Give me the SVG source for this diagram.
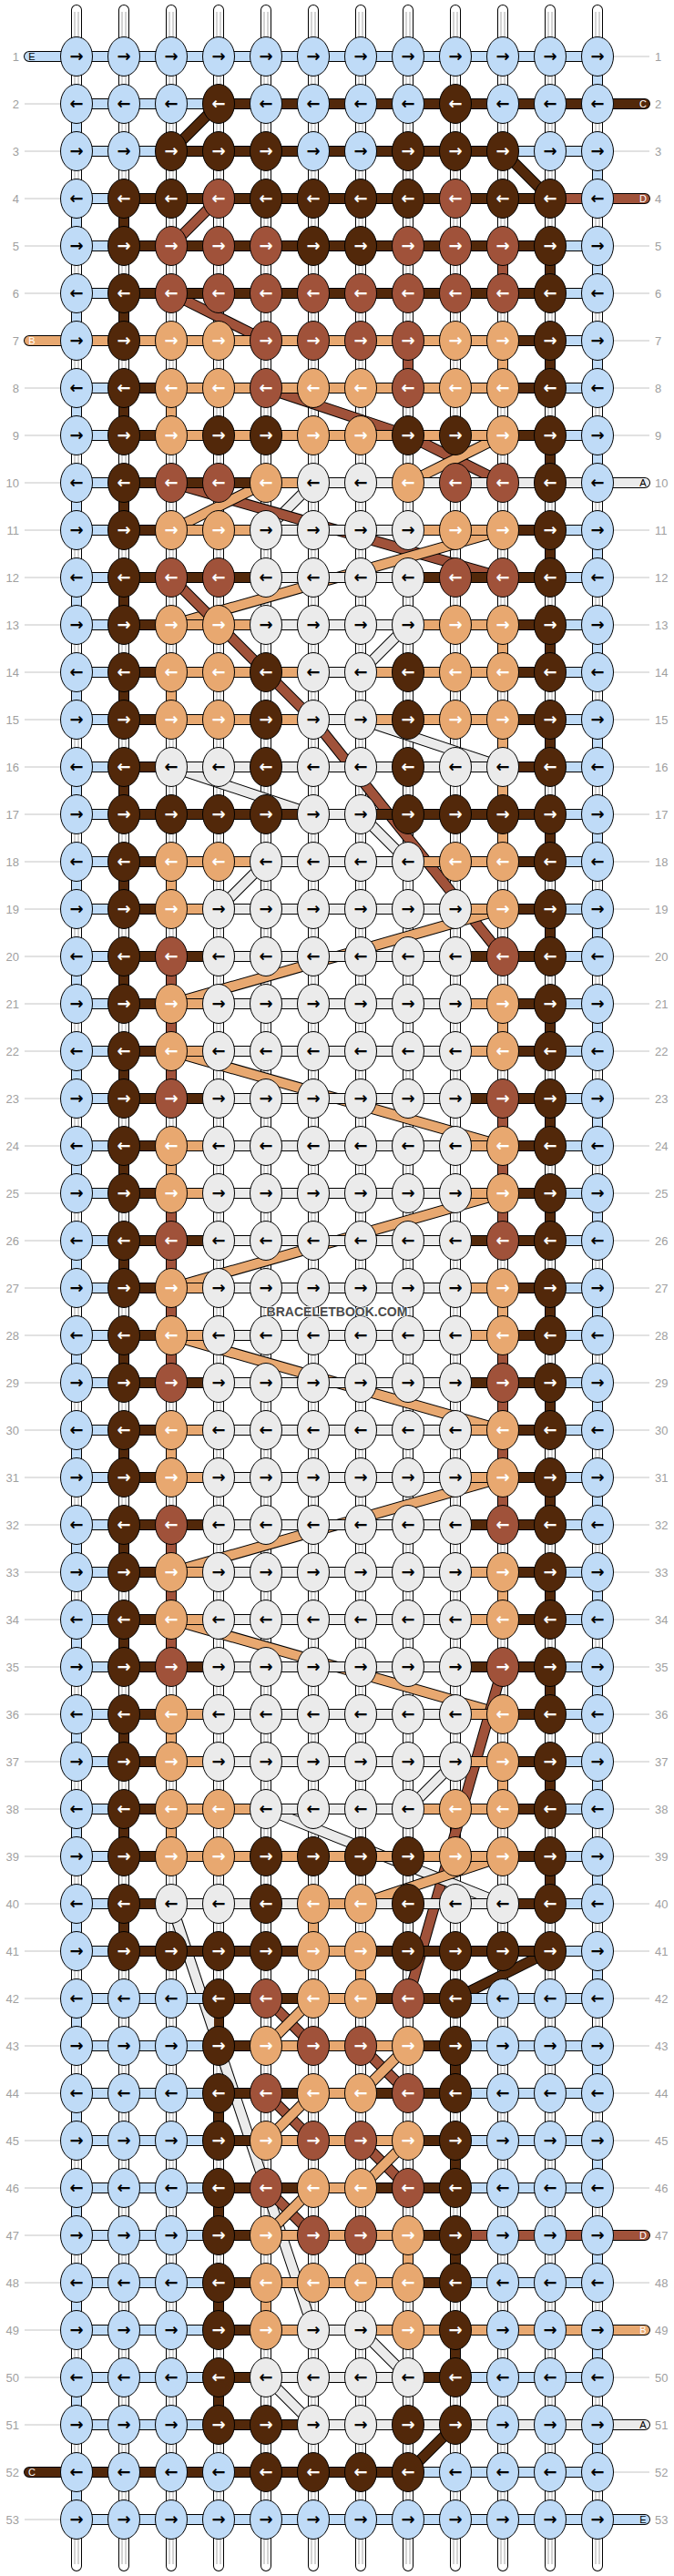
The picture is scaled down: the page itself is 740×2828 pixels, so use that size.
<svg xmlns="http://www.w3.org/2000/svg" width="740" height="2828" viewBox="0 0 740 2828">
<style>
.f{fill:none}
.ub{fill:none;stroke:#000;stroke-width:12}
.uw{fill:none;stroke:#fff;stroke-width:10}
.ul{fill:none;stroke:#A8A8A8;stroke-width:1}
.h{fill:none;stroke-width:10}
.rc{stroke-linecap:round}
.cL{stroke:#BFDBF7}.cD{stroke:#52280A}.cR{stroke:#A0523A}.cT{stroke:#E8A870}.cW{stroke:#EBEBEB}
.dash{stroke-dasharray:52 52}
.lbl{fill:none;stroke:#C4C4C4;stroke-width:1}
.num{font:13px "Liberation Sans",Arial,sans-serif;fill:#A0A0A0}
.ne{text-anchor:end}
.sl{font:11px "Liberation Sans",Arial,sans-serif;text-anchor:middle}
#nodes ellipse{rx:17.5px;ry:21.5px;stroke:#000;stroke-width:1}
#nodes text{font:bold 18px "DejaVu Sans",sans-serif;text-anchor:middle}
.L ellipse{fill:#BFDBF7}.D ellipse{fill:#52280A}.R ellipse{fill:#A0523A}.T ellipse{fill:#E8A870}.W ellipse{fill:#EBEBEB}
.L text,.W text{fill:#000}.D text,.R text,.T text{fill:#fff}
.wm{font:bold 14px "Liberation Sans",Arial,sans-serif;fill:#4A4A4A;text-anchor:middle;stroke:#fff;stroke-width:1.5;paint-order:stroke}
</style>
<rect width="740" height="2828" fill="#fff"/>
<g id="labels">
<path class="lbl" d="M27 114H66M27 166H66M27 218H66M27 270H66M27 322H66M27 426H66M27 478H66M27 530H66M27 582H66M27 634H66M27 686H66M27 738H66M27 790H66M27 842H66M27 894H66M27 946H66M27 998H66M27 1050H66M27 1102H66M27 1154H66M27 1206H66M27 1258H66M27 1310H66M27 1362H66M27 1414H66M27 1466H66M27 1518H66M27 1570H66M27 1622H66M27 1674H66M27 1726H66M27 1778H66M27 1830H66M27 1882H66M27 1934H66M27 1986H66M27 2038H66M27 2090H66M27 2142H66M27 2194H66M27 2246H66M27 2298H66M27 2350H66M27 2402H66M27 2454H66M27 2506H66M27 2558H66M27 2610H66M27 2662H66M27 2766H66"/>
<path class="lbl" d="M674 62H713M674 166H713M674 270H713M674 322H713M674 374H713M674 426H713M674 478H713M674 582H713M674 634H713M674 686H713M674 738H713M674 790H713M674 842H713M674 894H713M674 946H713M674 998H713M674 1050H713M674 1102H713M674 1154H713M674 1206H713M674 1258H713M674 1310H713M674 1362H713M674 1414H713M674 1466H713M674 1518H713M674 1570H713M674 1622H713M674 1674H713M674 1726H713M674 1778H713M674 1830H713M674 1882H713M674 1934H713M674 1986H713M674 2038H713M674 2090H713M674 2142H713M674 2194H713M674 2246H713M674 2298H713M674 2350H713M674 2402H713M674 2506H713M674 2610H713M674 2714H713"/>
<text class="num ne" x="21" y="67">1</text><text class="num ne" x="21" y="119">2</text><text class="num ne" x="21" y="171">3</text><text class="num ne" x="21" y="223">4</text><text class="num ne" x="21" y="275">5</text><text class="num ne" x="21" y="327">6</text><text class="num ne" x="21" y="379">7</text><text class="num ne" x="21" y="431">8</text><text class="num ne" x="21" y="483">9</text><text class="num ne" x="21" y="535">10</text><text class="num ne" x="21" y="587">11</text><text class="num ne" x="21" y="639">12</text><text class="num ne" x="21" y="691">13</text><text class="num ne" x="21" y="743">14</text><text class="num ne" x="21" y="795">15</text><text class="num ne" x="21" y="847">16</text><text class="num ne" x="21" y="899">17</text><text class="num ne" x="21" y="951">18</text><text class="num ne" x="21" y="1003">19</text><text class="num ne" x="21" y="1055">20</text><text class="num ne" x="21" y="1107">21</text><text class="num ne" x="21" y="1159">22</text><text class="num ne" x="21" y="1211">23</text><text class="num ne" x="21" y="1263">24</text><text class="num ne" x="21" y="1315">25</text><text class="num ne" x="21" y="1367">26</text><text class="num ne" x="21" y="1419">27</text><text class="num ne" x="21" y="1471">28</text><text class="num ne" x="21" y="1523">29</text><text class="num ne" x="21" y="1575">30</text><text class="num ne" x="21" y="1627">31</text><text class="num ne" x="21" y="1679">32</text><text class="num ne" x="21" y="1731">33</text><text class="num ne" x="21" y="1783">34</text><text class="num ne" x="21" y="1835">35</text><text class="num ne" x="21" y="1887">36</text><text class="num ne" x="21" y="1939">37</text><text class="num ne" x="21" y="1991">38</text><text class="num ne" x="21" y="2043">39</text><text class="num ne" x="21" y="2095">40</text><text class="num ne" x="21" y="2147">41</text><text class="num ne" x="21" y="2199">42</text><text class="num ne" x="21" y="2251">43</text><text class="num ne" x="21" y="2303">44</text><text class="num ne" x="21" y="2355">45</text><text class="num ne" x="21" y="2407">46</text><text class="num ne" x="21" y="2459">47</text><text class="num ne" x="21" y="2511">48</text><text class="num ne" x="21" y="2563">49</text><text class="num ne" x="21" y="2615">50</text><text class="num ne" x="21" y="2667">51</text><text class="num ne" x="21" y="2719">52</text><text class="num ne" x="21" y="2771">53</text>
<text class="num" x="719" y="67">1</text><text class="num" x="719" y="119">2</text><text class="num" x="719" y="171">3</text><text class="num" x="719" y="223">4</text><text class="num" x="719" y="275">5</text><text class="num" x="719" y="327">6</text><text class="num" x="719" y="379">7</text><text class="num" x="719" y="431">8</text><text class="num" x="719" y="483">9</text><text class="num" x="719" y="535">10</text><text class="num" x="719" y="587">11</text><text class="num" x="719" y="639">12</text><text class="num" x="719" y="691">13</text><text class="num" x="719" y="743">14</text><text class="num" x="719" y="795">15</text><text class="num" x="719" y="847">16</text><text class="num" x="719" y="899">17</text><text class="num" x="719" y="951">18</text><text class="num" x="719" y="1003">19</text><text class="num" x="719" y="1055">20</text><text class="num" x="719" y="1107">21</text><text class="num" x="719" y="1159">22</text><text class="num" x="719" y="1211">23</text><text class="num" x="719" y="1263">24</text><text class="num" x="719" y="1315">25</text><text class="num" x="719" y="1367">26</text><text class="num" x="719" y="1419">27</text><text class="num" x="719" y="1471">28</text><text class="num" x="719" y="1523">29</text><text class="num" x="719" y="1575">30</text><text class="num" x="719" y="1627">31</text><text class="num" x="719" y="1679">32</text><text class="num" x="719" y="1731">33</text><text class="num" x="719" y="1783">34</text><text class="num" x="719" y="1835">35</text><text class="num" x="719" y="1887">36</text><text class="num" x="719" y="1939">37</text><text class="num" x="719" y="1991">38</text><text class="num" x="719" y="2043">39</text><text class="num" x="719" y="2095">40</text><text class="num" x="719" y="2147">41</text><text class="num" x="719" y="2199">42</text><text class="num" x="719" y="2251">43</text><text class="num" x="719" y="2303">44</text><text class="num" x="719" y="2355">45</text><text class="num" x="719" y="2407">46</text><text class="num" x="719" y="2459">47</text><text class="num" x="719" y="2511">48</text><text class="num" x="719" y="2563">49</text><text class="num" x="719" y="2615">50</text><text class="num" x="719" y="2667">51</text><text class="num" x="719" y="2719">52</text><text class="num" x="719" y="2771">53</text>
</g>
<g id="connectors">
<path class="ub rc" d="M84 11V2817M136 11V2817M188 11V2817M240 11V2817M292 11V2817M344 11V2817M396 11V2817M448 11V2817M500 11V2817M552 11V2817M604 11V2817M656 11V2817"/>
<path class="uw rc" d="M84 11V2817M136 11V2817M188 11V2817M240 11V2817M292 11V2817M344 11V2817M396 11V2817M448 11V2817M500 11V2817M552 11V2817M604 11V2817M656 11V2817"/>
<path class="ul" d="M82 13V2815M86 13V2815M134 13V2815M138 13V2815M186 13V2815M190 13V2815M238 13V2815M242 13V2815M290 13V2815M294 13V2815M342 13V2815M346 13V2815M394 13V2815M398 13V2815M446 13V2815M450 13V2815M498 13V2815M502 13V2815M550 13V2815M554 13V2815M602 13V2815M606 13V2815M654 13V2815M658 13V2815"/>
<g id="diagonals">
<path class="ub" d="M240 114L188 166"/><path class="h cD" d="M240 114L188 166"/>
<path class="ub" d="M552 166L604 218"/><path class="h cD" d="M552 166L604 218"/>
<path class="ub" d="M240 218L188 270"/><path class="h cR" d="M240 218L188 270"/>
<path class="ub" d="M188 322L292 374"/><path class="h cR" d="M188 322L292 374"/>
<path class="ub" d="M292 426L448 478L552 530"/><path class="h cR" d="M292 426L448 478L552 530"/>
<path class="ub" d="M552 478L448 530"/><path class="h cT" d="M552 478L448 530"/>
<path class="ub" d="M344 530L292 582"/><path class="h cW" d="M344 530L292 582"/>
<path class="ub" d="M188 530L552 634"/><path class="h cR" d="M188 530L552 634"/>
<path class="ub" d="M292 530L188 582"/><path class="h cT" d="M292 530L188 582"/>
<path class="ub" d="M552 582L188 686"/><path class="h cT" d="M552 582L188 686"/>
<path class="ub" d="M188 634L292 738L344 790L552 1050"/><path class="h cR" d="M188 634L292 738L344 790L552 1050"/>
<path class="ub" d="M448 686L396 738"/><path class="h cW" d="M448 686L396 738"/>
<path class="ub" d="M396 790L552 842"/><path class="h cW" d="M396 790L552 842"/>
<path class="ub" d="M188 842L344 894"/><path class="h cW" d="M188 842L344 894"/>
<path class="ub" d="M396 894L448 946"/><path class="h cW" d="M396 894L448 946"/>
<path class="ub" d="M292 946L240 998"/><path class="h cW" d="M292 946L240 998"/>
<path class="ub" d="M552 998L188 1102"/><path class="h cT" d="M552 998L188 1102"/>
<path class="ub" d="M188 1154L552 1258"/><path class="h cT" d="M188 1154L552 1258"/>
<path class="ub" d="M552 1310L188 1414"/><path class="h cT" d="M552 1310L188 1414"/>
<path class="ub" d="M188 1466L552 1570"/><path class="h cT" d="M188 1466L552 1570"/>
<path class="ub" d="M552 1622L188 1726"/><path class="h cT" d="M552 1622L188 1726"/>
<path class="ub" d="M188 1778L552 1882"/><path class="h cT" d="M188 1778L552 1882"/>
<path class="ub" d="M552 1830L448 2194"/><path class="h cR" d="M552 1830L448 2194"/>
<path class="ub" d="M500 1934L448 1986"/><path class="h cW" d="M500 1934L448 1986"/>
<path class="ub" d="M292 1986L552 2090"/><path class="h cW" d="M292 1986L552 2090"/>
<path class="ub" d="M552 2038L396 2090"/><path class="h cT" d="M552 2038L396 2090"/>
<path class="ub" d="M188 2090L344 2558"/><path class="h cW" d="M188 2090L344 2558"/>
<path class="ub" d="M604 2142L500 2194"/><path class="h cD" d="M604 2142L500 2194"/>
<path class="ub" d="M292 2194L344 2246"/><path class="h cR" d="M292 2194L344 2246"/>
<path class="ub" d="M344 2194L292 2246"/><path class="h cT" d="M344 2194L292 2246"/>
<path class="ub" d="M396 2246L448 2298"/><path class="h cR" d="M396 2246L448 2298"/>
<path class="ub" d="M448 2246L396 2298"/><path class="h cT" d="M448 2246L396 2298"/>
<path class="ub" d="M292 2298L344 2350"/><path class="h cR" d="M292 2298L344 2350"/>
<path class="ub" d="M344 2298L292 2350"/><path class="h cT" d="M344 2298L292 2350"/>
<path class="ub" d="M396 2350L448 2402"/><path class="h cR" d="M396 2350L448 2402"/>
<path class="ub" d="M448 2350L396 2402"/><path class="h cT" d="M448 2350L396 2402"/>
<path class="ub" d="M292 2402L344 2454"/><path class="h cR" d="M292 2402L344 2454"/>
<path class="ub" d="M344 2402L292 2454"/><path class="h cT" d="M344 2402L292 2454"/>
<path class="ub" d="M396 2558L448 2610"/><path class="h cW" d="M396 2558L448 2610"/>
<path class="ub" d="M292 2610L344 2662"/><path class="h cW" d="M292 2610L344 2662"/>
<path class="ub" d="M500 2662L448 2714"/><path class="h cD" d="M500 2662L448 2714"/>
</g>
<path class="ub" d="M84 62h572M84 114h572M84 166h572M84 218h572M84 270h572M84 322h572M84 374h572M84 426h572M84 478h572M84 530h572M84 582h572M84 634h572M84 686h572M84 738h572M84 790h572M84 842h572M84 894h572M84 946h572M84 998h572M84 1050h572M84 1102h572M84 1154h572M84 1206h572M84 1258h572M84 1310h572M84 1362h572M84 1414h572M84 1466h572M84 1518h572M84 1570h572M84 1622h572M84 1674h572M84 1726h572M84 1778h572M84 1830h572M84 1882h572M84 1934h572M84 1986h572M84 2038h572M84 2090h572M84 2142h572M84 2194h572M84 2246h572M84 2298h572M84 2350h572M84 2402h572M84 2454h572M84 2506h572M84 2558h572M84 2610h572M84 2662h572M84 2714h572M84 2766h572"/>
<path class="ub rc" d="M32 62H84M32 374H84M32 2714H84M656 114H708M656 218H708M656 530H708M656 2454H708M656 2558H708M656 2662H708M656 2766H708"/>
<path class="h cL" d="M84 62h572M84 114h156M84 166h104M552 166h104M84 218h52M84 270h52M604 270h52M84 322h52M604 322h52M604 374h52M84 426h52M604 426h52M84 478h52M604 478h52M84 530h52M84 582h52M604 582h52M84 634h52M604 634h52M84 686h52M604 686h52M84 738h52M604 738h52M84 790h52M604 790h52M84 842h52M604 842h52M84 894h52M604 894h52M84 946h52M604 946h52M84 998h52M604 998h52M84 1050h52M604 1050h52M84 1102h52M604 1102h52M84 1154h52M604 1154h52M84 1206h52M604 1206h52M84 1258h52M604 1258h52M84 1310h52M604 1310h52M84 1362h52M604 1362h52M84 1414h52M604 1414h52M84 1466h52M604 1466h52M84 1518h52M604 1518h52M84 1570h52M604 1570h52M84 1622h52M604 1622h52M84 1674h52M604 1674h52M84 1726h52M604 1726h52M84 1778h52M604 1778h52M84 1830h52M604 1830h52M84 1882h52M604 1882h52M84 1934h52M604 1934h52M84 1986h52M604 1986h52M84 2038h52M604 2038h52M84 2090h52M604 2090h52M84 2142h52M604 2142h52M84 2194h156M500 2194h156M84 2246h156M500 2246h156M84 2298h156M500 2298h156M84 2350h156M500 2350h156M84 2402h156M500 2402h156M84 2454h156M84 2506h156M500 2506h156M84 2558h156M84 2610h156M500 2610h156M84 2662h156M448 2714h208M84 2766h572"/>
<path class="h cD" d="M240 114h416M188 166h364M136 218h468M136 270h468M136 322h468M552 374h52M136 426h52M552 426h52M136 478h52M552 478h52M136 530h156M136 582h52M552 582h52M136 634h156M448 634h156M136 686h52M552 686h52M136 738h52M552 738h52M136 790h52M552 790h52M136 842h52M552 842h52M136 894h208M396 894h208M136 946h52M552 946h52M136 998h52M552 998h52M136 1050h104M500 1050h104M136 1102h52M552 1102h52M136 1154h52M552 1154h52M136 1206h104M500 1206h104M136 1258h52M552 1258h52M136 1310h52M552 1310h52M136 1362h104M500 1362h104M136 1414h52M552 1414h52M136 1466h52M552 1466h52M136 1518h104M500 1518h104M136 1570h52M552 1570h52M136 1622h52M552 1622h52M136 1674h104M500 1674h104M136 1726h52M552 1726h52M136 1778h52M552 1778h52M136 1830h104M500 1830h104M136 1882h52M552 1882h52M136 1934h52M552 1934h52M136 1986h52M552 1986h52M136 2038h52M552 2038h52M136 2090h52M552 2090h52M136 2142h208M396 2142h208M240 2194h104M396 2194h104M240 2246h52M448 2246h52M240 2298h104M396 2298h104M240 2350h52M448 2350h52M240 2402h104M396 2402h104M240 2454h52M448 2454h52M240 2506h52M448 2506h52M240 2558h52M240 2610h52M448 2610h52M240 2662h104M84 2714h364"/>
<path class="h cT" d="M84 374h468M188 426h364M188 478h364M292 530h52M188 582h104M448 582h104M188 686h104M448 686h104M188 738h156M396 738h156M188 790h156M396 790h156M188 946h104M448 946h104M188 998h52M500 998h52M188 1102h52M500 1102h52M188 1154h52M500 1154h52M188 1258h52M500 1258h52M188 1310h52M500 1310h52M188 1414h52M500 1414h52M188 1466h52M500 1466h52M188 1570h52M500 1570h52M188 1622h52M500 1622h52M188 1726h52M500 1726h52M188 1778h52M500 1778h52M188 1882h52M500 1882h52M188 1934h52M500 1934h52M188 1986h104M448 1986h104M188 2038h364M344 2090h52M344 2142h52M344 2194h52M292 2246h156M344 2298h52M292 2350h156M344 2402h52M292 2454h156M292 2506h156M292 2558h52M396 2558h260"/>
<path class="h cR" d="M604 218h52M500 2454h156"/>
<path class="h cW" d="M344 530h312M292 582h156M292 634h156M292 686h156M344 738h52M344 790h52M188 842h364M344 894h52M292 946h156M240 998h260M240 1050h260M240 1102h260M240 1154h260M240 1206h260M240 1258h260M240 1310h260M240 1362h260M240 1414h260M240 1466h260M240 1518h260M240 1570h260M240 1622h260M240 1674h260M240 1726h260M240 1778h260M240 1830h260M240 1882h260M240 1934h260M292 1986h156M188 2090h156M396 2090h156M344 2558h52M292 2610h156M344 2662h312"/>
<path class="h rc cL" d="M32 62H84M656 2766H708"/>
<path class="h rc cT" d="M32 374H84M656 2558H708"/>
<path class="h rc cD" d="M32 2714H84M656 114H708"/>
<path class="h rc cR" d="M656 218H708M656 2454H708"/>
<path class="h rc cW" d="M656 530H708M656 2662H708"/>
<path class="h dash cL" d="M84 114V2766M656 62V2714"/>
<path class="h dash cD" d="M136 218V2142M604 270V2090M240 2194V2662M500 2246V2610"/>
<path class="h cR" d="M552 270v52M448 374v52M188 1050v156M188 1310v208M188 1674v156M552 1206v156M552 1466v208"/>
<path class="h cT" d="M552 374v52M188 426v52M552 686v52M188 738v52M552 790v156M188 946v52M552 1102v52M188 1258v52M552 1414v52M188 1570v52M552 1726v52M188 1882v52M552 1934v52M188 1986v52M344 2090v52M396 2142v52M448 2454v52M292 2506v52"/>
<text class="sl" x="35" y="66" fill="#000">E</text><text class="sl" x="35" y="378" fill="#fff">B</text><text class="sl" x="35" y="2718" fill="#fff">C</text>
<text class="sl" x="706" y="118" fill="#fff">C</text><text class="sl" x="706" y="222" fill="#fff">D</text><text class="sl" x="706" y="534" fill="#000">A</text><text class="sl" x="706" y="2458" fill="#fff">D</text><text class="sl" x="706" y="2562" fill="#fff">B</text><text class="sl" x="706" y="2666" fill="#000">A</text><text class="sl" x="706" y="2770" fill="#000">E</text>
</g>
<g id="nodes">
<g id="n1-1" class="L"><ellipse cx="84" cy="62"/><text x="84" y="68">→</text></g><g id="n1-2" class="L"><ellipse cx="136" cy="62"/><text x="136" y="68">→</text></g><g id="n1-3" class="L"><ellipse cx="188" cy="62"/><text x="188" y="68">→</text></g><g id="n1-4" class="L"><ellipse cx="240" cy="62"/><text x="240" y="68">→</text></g><g id="n1-5" class="L"><ellipse cx="292" cy="62"/><text x="292" y="68">→</text></g><g id="n1-6" class="L"><ellipse cx="344" cy="62"/><text x="344" y="68">→</text></g><g id="n1-7" class="L"><ellipse cx="396" cy="62"/><text x="396" y="68">→</text></g><g id="n1-8" class="L"><ellipse cx="448" cy="62"/><text x="448" y="68">→</text></g><g id="n1-9" class="L"><ellipse cx="500" cy="62"/><text x="500" y="68">→</text></g><g id="n1-10" class="L"><ellipse cx="552" cy="62"/><text x="552" y="68">→</text></g><g id="n1-11" class="L"><ellipse cx="604" cy="62"/><text x="604" y="68">→</text></g><g id="n1-12" class="L"><ellipse cx="656" cy="62"/><text x="656" y="68">→</text></g>
<g id="n2-1" class="L"><ellipse cx="84" cy="114"/><text x="84" y="120">←</text></g><g id="n2-2" class="L"><ellipse cx="136" cy="114"/><text x="136" y="120">←</text></g><g id="n2-3" class="L"><ellipse cx="188" cy="114"/><text x="188" y="120">←</text></g><g id="n2-4" class="D"><ellipse cx="240" cy="114"/><text x="240" y="120">←</text></g><g id="n2-5" class="L"><ellipse cx="292" cy="114"/><text x="292" y="120">←</text></g><g id="n2-6" class="L"><ellipse cx="344" cy="114"/><text x="344" y="120">←</text></g><g id="n2-7" class="L"><ellipse cx="396" cy="114"/><text x="396" y="120">←</text></g><g id="n2-8" class="L"><ellipse cx="448" cy="114"/><text x="448" y="120">←</text></g><g id="n2-9" class="D"><ellipse cx="500" cy="114"/><text x="500" y="120">←</text></g><g id="n2-10" class="L"><ellipse cx="552" cy="114"/><text x="552" y="120">←</text></g><g id="n2-11" class="L"><ellipse cx="604" cy="114"/><text x="604" y="120">←</text></g><g id="n2-12" class="L"><ellipse cx="656" cy="114"/><text x="656" y="120">←</text></g>
<g id="n3-1" class="L"><ellipse cx="84" cy="166"/><text x="84" y="172">→</text></g><g id="n3-2" class="L"><ellipse cx="136" cy="166"/><text x="136" y="172">→</text></g><g id="n3-3" class="D"><ellipse cx="188" cy="166"/><text x="188" y="172">→</text></g><g id="n3-4" class="D"><ellipse cx="240" cy="166"/><text x="240" y="172">→</text></g><g id="n3-5" class="D"><ellipse cx="292" cy="166"/><text x="292" y="172">→</text></g><g id="n3-6" class="L"><ellipse cx="344" cy="166"/><text x="344" y="172">→</text></g><g id="n3-7" class="L"><ellipse cx="396" cy="166"/><text x="396" y="172">→</text></g><g id="n3-8" class="D"><ellipse cx="448" cy="166"/><text x="448" y="172">→</text></g><g id="n3-9" class="D"><ellipse cx="500" cy="166"/><text x="500" y="172">→</text></g><g id="n3-10" class="D"><ellipse cx="552" cy="166"/><text x="552" y="172">→</text></g><g id="n3-11" class="L"><ellipse cx="604" cy="166"/><text x="604" y="172">→</text></g><g id="n3-12" class="L"><ellipse cx="656" cy="166"/><text x="656" y="172">→</text></g>
<g id="n4-1" class="L"><ellipse cx="84" cy="218"/><text x="84" y="224">←</text></g><g id="n4-2" class="D"><ellipse cx="136" cy="218"/><text x="136" y="224">←</text></g><g id="n4-3" class="D"><ellipse cx="188" cy="218"/><text x="188" y="224">←</text></g><g id="n4-4" class="R"><ellipse cx="240" cy="218"/><text x="240" y="224">←</text></g><g id="n4-5" class="D"><ellipse cx="292" cy="218"/><text x="292" y="224">←</text></g><g id="n4-6" class="D"><ellipse cx="344" cy="218"/><text x="344" y="224">←</text></g><g id="n4-7" class="D"><ellipse cx="396" cy="218"/><text x="396" y="224">←</text></g><g id="n4-8" class="D"><ellipse cx="448" cy="218"/><text x="448" y="224">←</text></g><g id="n4-9" class="R"><ellipse cx="500" cy="218"/><text x="500" y="224">←</text></g><g id="n4-10" class="D"><ellipse cx="552" cy="218"/><text x="552" y="224">←</text></g><g id="n4-11" class="D"><ellipse cx="604" cy="218"/><text x="604" y="224">←</text></g><g id="n4-12" class="L"><ellipse cx="656" cy="218"/><text x="656" y="224">←</text></g>
<g id="n5-1" class="L"><ellipse cx="84" cy="270"/><text x="84" y="276">→</text></g><g id="n5-2" class="D"><ellipse cx="136" cy="270"/><text x="136" y="276">→</text></g><g id="n5-3" class="R"><ellipse cx="188" cy="270"/><text x="188" y="276">→</text></g><g id="n5-4" class="R"><ellipse cx="240" cy="270"/><text x="240" y="276">→</text></g><g id="n5-5" class="R"><ellipse cx="292" cy="270"/><text x="292" y="276">→</text></g><g id="n5-6" class="D"><ellipse cx="344" cy="270"/><text x="344" y="276">→</text></g><g id="n5-7" class="D"><ellipse cx="396" cy="270"/><text x="396" y="276">→</text></g><g id="n5-8" class="R"><ellipse cx="448" cy="270"/><text x="448" y="276">→</text></g><g id="n5-9" class="R"><ellipse cx="500" cy="270"/><text x="500" y="276">→</text></g><g id="n5-10" class="R"><ellipse cx="552" cy="270"/><text x="552" y="276">→</text></g><g id="n5-11" class="D"><ellipse cx="604" cy="270"/><text x="604" y="276">→</text></g><g id="n5-12" class="L"><ellipse cx="656" cy="270"/><text x="656" y="276">→</text></g>
<g id="n6-1" class="L"><ellipse cx="84" cy="322"/><text x="84" y="328">←</text></g><g id="n6-2" class="D"><ellipse cx="136" cy="322"/><text x="136" y="328">←</text></g><g id="n6-3" class="R"><ellipse cx="188" cy="322"/><text x="188" y="328">←</text></g><g id="n6-4" class="R"><ellipse cx="240" cy="322"/><text x="240" y="328">←</text></g><g id="n6-5" class="R"><ellipse cx="292" cy="322"/><text x="292" y="328">←</text></g><g id="n6-6" class="R"><ellipse cx="344" cy="322"/><text x="344" y="328">←</text></g><g id="n6-7" class="R"><ellipse cx="396" cy="322"/><text x="396" y="328">←</text></g><g id="n6-8" class="R"><ellipse cx="448" cy="322"/><text x="448" y="328">←</text></g><g id="n6-9" class="R"><ellipse cx="500" cy="322"/><text x="500" y="328">←</text></g><g id="n6-10" class="R"><ellipse cx="552" cy="322"/><text x="552" y="328">←</text></g><g id="n6-11" class="D"><ellipse cx="604" cy="322"/><text x="604" y="328">←</text></g><g id="n6-12" class="L"><ellipse cx="656" cy="322"/><text x="656" y="328">←</text></g>
<g id="n7-1" class="L"><ellipse cx="84" cy="374"/><text x="84" y="380">→</text></g><g id="n7-2" class="D"><ellipse cx="136" cy="374"/><text x="136" y="380">→</text></g><g id="n7-3" class="T"><ellipse cx="188" cy="374"/><text x="188" y="380">→</text></g><g id="n7-4" class="T"><ellipse cx="240" cy="374"/><text x="240" y="380">→</text></g><g id="n7-5" class="R"><ellipse cx="292" cy="374"/><text x="292" y="380">→</text></g><g id="n7-6" class="R"><ellipse cx="344" cy="374"/><text x="344" y="380">→</text></g><g id="n7-7" class="R"><ellipse cx="396" cy="374"/><text x="396" y="380">→</text></g><g id="n7-8" class="R"><ellipse cx="448" cy="374"/><text x="448" y="380">→</text></g><g id="n7-9" class="T"><ellipse cx="500" cy="374"/><text x="500" y="380">→</text></g><g id="n7-10" class="T"><ellipse cx="552" cy="374"/><text x="552" y="380">→</text></g><g id="n7-11" class="D"><ellipse cx="604" cy="374"/><text x="604" y="380">→</text></g><g id="n7-12" class="L"><ellipse cx="656" cy="374"/><text x="656" y="380">→</text></g>
<g id="n8-1" class="L"><ellipse cx="84" cy="426"/><text x="84" y="432">←</text></g><g id="n8-2" class="D"><ellipse cx="136" cy="426"/><text x="136" y="432">←</text></g><g id="n8-3" class="T"><ellipse cx="188" cy="426"/><text x="188" y="432">←</text></g><g id="n8-4" class="T"><ellipse cx="240" cy="426"/><text x="240" y="432">←</text></g><g id="n8-5" class="R"><ellipse cx="292" cy="426"/><text x="292" y="432">←</text></g><g id="n8-6" class="T"><ellipse cx="344" cy="426"/><text x="344" y="432">←</text></g><g id="n8-7" class="T"><ellipse cx="396" cy="426"/><text x="396" y="432">←</text></g><g id="n8-8" class="R"><ellipse cx="448" cy="426"/><text x="448" y="432">←</text></g><g id="n8-9" class="T"><ellipse cx="500" cy="426"/><text x="500" y="432">←</text></g><g id="n8-10" class="T"><ellipse cx="552" cy="426"/><text x="552" y="432">←</text></g><g id="n8-11" class="D"><ellipse cx="604" cy="426"/><text x="604" y="432">←</text></g><g id="n8-12" class="L"><ellipse cx="656" cy="426"/><text x="656" y="432">←</text></g>
<g id="n9-1" class="L"><ellipse cx="84" cy="478"/><text x="84" y="484">→</text></g><g id="n9-2" class="D"><ellipse cx="136" cy="478"/><text x="136" y="484">→</text></g><g id="n9-3" class="T"><ellipse cx="188" cy="478"/><text x="188" y="484">→</text></g><g id="n9-4" class="D"><ellipse cx="240" cy="478"/><text x="240" y="484">→</text></g><g id="n9-5" class="D"><ellipse cx="292" cy="478"/><text x="292" y="484">→</text></g><g id="n9-6" class="T"><ellipse cx="344" cy="478"/><text x="344" y="484">→</text></g><g id="n9-7" class="T"><ellipse cx="396" cy="478"/><text x="396" y="484">→</text></g><g id="n9-8" class="D"><ellipse cx="448" cy="478"/><text x="448" y="484">→</text></g><g id="n9-9" class="D"><ellipse cx="500" cy="478"/><text x="500" y="484">→</text></g><g id="n9-10" class="T"><ellipse cx="552" cy="478"/><text x="552" y="484">→</text></g><g id="n9-11" class="D"><ellipse cx="604" cy="478"/><text x="604" y="484">→</text></g><g id="n9-12" class="L"><ellipse cx="656" cy="478"/><text x="656" y="484">→</text></g>
<g id="n10-1" class="L"><ellipse cx="84" cy="530"/><text x="84" y="536">←</text></g><g id="n10-2" class="D"><ellipse cx="136" cy="530"/><text x="136" y="536">←</text></g><g id="n10-3" class="R"><ellipse cx="188" cy="530"/><text x="188" y="536">←</text></g><g id="n10-4" class="R"><ellipse cx="240" cy="530"/><text x="240" y="536">←</text></g><g id="n10-5" class="T"><ellipse cx="292" cy="530"/><text x="292" y="536">←</text></g><g id="n10-6" class="W"><ellipse cx="344" cy="530"/><text x="344" y="536">←</text></g><g id="n10-7" class="W"><ellipse cx="396" cy="530"/><text x="396" y="536">←</text></g><g id="n10-8" class="T"><ellipse cx="448" cy="530"/><text x="448" y="536">←</text></g><g id="n10-9" class="R"><ellipse cx="500" cy="530"/><text x="500" y="536">←</text></g><g id="n10-10" class="R"><ellipse cx="552" cy="530"/><text x="552" y="536">←</text></g><g id="n10-11" class="D"><ellipse cx="604" cy="530"/><text x="604" y="536">←</text></g><g id="n10-12" class="L"><ellipse cx="656" cy="530"/><text x="656" y="536">←</text></g>
<g id="n11-1" class="L"><ellipse cx="84" cy="582"/><text x="84" y="588">→</text></g><g id="n11-2" class="D"><ellipse cx="136" cy="582"/><text x="136" y="588">→</text></g><g id="n11-3" class="T"><ellipse cx="188" cy="582"/><text x="188" y="588">→</text></g><g id="n11-4" class="T"><ellipse cx="240" cy="582"/><text x="240" y="588">→</text></g><g id="n11-5" class="W"><ellipse cx="292" cy="582"/><text x="292" y="588">→</text></g><g id="n11-6" class="W"><ellipse cx="344" cy="582"/><text x="344" y="588">→</text></g><g id="n11-7" class="W"><ellipse cx="396" cy="582"/><text x="396" y="588">→</text></g><g id="n11-8" class="W"><ellipse cx="448" cy="582"/><text x="448" y="588">→</text></g><g id="n11-9" class="T"><ellipse cx="500" cy="582"/><text x="500" y="588">→</text></g><g id="n11-10" class="T"><ellipse cx="552" cy="582"/><text x="552" y="588">→</text></g><g id="n11-11" class="D"><ellipse cx="604" cy="582"/><text x="604" y="588">→</text></g><g id="n11-12" class="L"><ellipse cx="656" cy="582"/><text x="656" y="588">→</text></g>
<g id="n12-1" class="L"><ellipse cx="84" cy="634"/><text x="84" y="640">←</text></g><g id="n12-2" class="D"><ellipse cx="136" cy="634"/><text x="136" y="640">←</text></g><g id="n12-3" class="R"><ellipse cx="188" cy="634"/><text x="188" y="640">←</text></g><g id="n12-4" class="R"><ellipse cx="240" cy="634"/><text x="240" y="640">←</text></g><g id="n12-5" class="W"><ellipse cx="292" cy="634"/><text x="292" y="640">←</text></g><g id="n12-6" class="W"><ellipse cx="344" cy="634"/><text x="344" y="640">←</text></g><g id="n12-7" class="W"><ellipse cx="396" cy="634"/><text x="396" y="640">←</text></g><g id="n12-8" class="W"><ellipse cx="448" cy="634"/><text x="448" y="640">←</text></g><g id="n12-9" class="R"><ellipse cx="500" cy="634"/><text x="500" y="640">←</text></g><g id="n12-10" class="R"><ellipse cx="552" cy="634"/><text x="552" y="640">←</text></g><g id="n12-11" class="D"><ellipse cx="604" cy="634"/><text x="604" y="640">←</text></g><g id="n12-12" class="L"><ellipse cx="656" cy="634"/><text x="656" y="640">←</text></g>
<g id="n13-1" class="L"><ellipse cx="84" cy="686"/><text x="84" y="692">→</text></g><g id="n13-2" class="D"><ellipse cx="136" cy="686"/><text x="136" y="692">→</text></g><g id="n13-3" class="T"><ellipse cx="188" cy="686"/><text x="188" y="692">→</text></g><g id="n13-4" class="T"><ellipse cx="240" cy="686"/><text x="240" y="692">→</text></g><g id="n13-5" class="W"><ellipse cx="292" cy="686"/><text x="292" y="692">→</text></g><g id="n13-6" class="W"><ellipse cx="344" cy="686"/><text x="344" y="692">→</text></g><g id="n13-7" class="W"><ellipse cx="396" cy="686"/><text x="396" y="692">→</text></g><g id="n13-8" class="W"><ellipse cx="448" cy="686"/><text x="448" y="692">→</text></g><g id="n13-9" class="T"><ellipse cx="500" cy="686"/><text x="500" y="692">→</text></g><g id="n13-10" class="T"><ellipse cx="552" cy="686"/><text x="552" y="692">→</text></g><g id="n13-11" class="D"><ellipse cx="604" cy="686"/><text x="604" y="692">→</text></g><g id="n13-12" class="L"><ellipse cx="656" cy="686"/><text x="656" y="692">→</text></g>
<g id="n14-1" class="L"><ellipse cx="84" cy="738"/><text x="84" y="744">←</text></g><g id="n14-2" class="D"><ellipse cx="136" cy="738"/><text x="136" y="744">←</text></g><g id="n14-3" class="T"><ellipse cx="188" cy="738"/><text x="188" y="744">←</text></g><g id="n14-4" class="T"><ellipse cx="240" cy="738"/><text x="240" y="744">←</text></g><g id="n14-5" class="D"><ellipse cx="292" cy="738"/><text x="292" y="744">←</text></g><g id="n14-6" class="W"><ellipse cx="344" cy="738"/><text x="344" y="744">←</text></g><g id="n14-7" class="W"><ellipse cx="396" cy="738"/><text x="396" y="744">←</text></g><g id="n14-8" class="D"><ellipse cx="448" cy="738"/><text x="448" y="744">←</text></g><g id="n14-9" class="T"><ellipse cx="500" cy="738"/><text x="500" y="744">←</text></g><g id="n14-10" class="T"><ellipse cx="552" cy="738"/><text x="552" y="744">←</text></g><g id="n14-11" class="D"><ellipse cx="604" cy="738"/><text x="604" y="744">←</text></g><g id="n14-12" class="L"><ellipse cx="656" cy="738"/><text x="656" y="744">←</text></g>
<g id="n15-1" class="L"><ellipse cx="84" cy="790"/><text x="84" y="796">→</text></g><g id="n15-2" class="D"><ellipse cx="136" cy="790"/><text x="136" y="796">→</text></g><g id="n15-3" class="T"><ellipse cx="188" cy="790"/><text x="188" y="796">→</text></g><g id="n15-4" class="T"><ellipse cx="240" cy="790"/><text x="240" y="796">→</text></g><g id="n15-5" class="D"><ellipse cx="292" cy="790"/><text x="292" y="796">→</text></g><g id="n15-6" class="W"><ellipse cx="344" cy="790"/><text x="344" y="796">→</text></g><g id="n15-7" class="W"><ellipse cx="396" cy="790"/><text x="396" y="796">→</text></g><g id="n15-8" class="D"><ellipse cx="448" cy="790"/><text x="448" y="796">→</text></g><g id="n15-9" class="T"><ellipse cx="500" cy="790"/><text x="500" y="796">→</text></g><g id="n15-10" class="T"><ellipse cx="552" cy="790"/><text x="552" y="796">→</text></g><g id="n15-11" class="D"><ellipse cx="604" cy="790"/><text x="604" y="796">→</text></g><g id="n15-12" class="L"><ellipse cx="656" cy="790"/><text x="656" y="796">→</text></g>
<g id="n16-1" class="L"><ellipse cx="84" cy="842"/><text x="84" y="848">←</text></g><g id="n16-2" class="D"><ellipse cx="136" cy="842"/><text x="136" y="848">←</text></g><g id="n16-3" class="W"><ellipse cx="188" cy="842"/><text x="188" y="848">←</text></g><g id="n16-4" class="W"><ellipse cx="240" cy="842"/><text x="240" y="848">←</text></g><g id="n16-5" class="D"><ellipse cx="292" cy="842"/><text x="292" y="848">←</text></g><g id="n16-6" class="W"><ellipse cx="344" cy="842"/><text x="344" y="848">←</text></g><g id="n16-7" class="W"><ellipse cx="396" cy="842"/><text x="396" y="848">←</text></g><g id="n16-8" class="D"><ellipse cx="448" cy="842"/><text x="448" y="848">←</text></g><g id="n16-9" class="W"><ellipse cx="500" cy="842"/><text x="500" y="848">←</text></g><g id="n16-10" class="W"><ellipse cx="552" cy="842"/><text x="552" y="848">←</text></g><g id="n16-11" class="D"><ellipse cx="604" cy="842"/><text x="604" y="848">←</text></g><g id="n16-12" class="L"><ellipse cx="656" cy="842"/><text x="656" y="848">←</text></g>
<g id="n17-1" class="L"><ellipse cx="84" cy="894"/><text x="84" y="900">→</text></g><g id="n17-2" class="D"><ellipse cx="136" cy="894"/><text x="136" y="900">→</text></g><g id="n17-3" class="D"><ellipse cx="188" cy="894"/><text x="188" y="900">→</text></g><g id="n17-4" class="D"><ellipse cx="240" cy="894"/><text x="240" y="900">→</text></g><g id="n17-5" class="D"><ellipse cx="292" cy="894"/><text x="292" y="900">→</text></g><g id="n17-6" class="W"><ellipse cx="344" cy="894"/><text x="344" y="900">→</text></g><g id="n17-7" class="W"><ellipse cx="396" cy="894"/><text x="396" y="900">→</text></g><g id="n17-8" class="D"><ellipse cx="448" cy="894"/><text x="448" y="900">→</text></g><g id="n17-9" class="D"><ellipse cx="500" cy="894"/><text x="500" y="900">→</text></g><g id="n17-10" class="D"><ellipse cx="552" cy="894"/><text x="552" y="900">→</text></g><g id="n17-11" class="D"><ellipse cx="604" cy="894"/><text x="604" y="900">→</text></g><g id="n17-12" class="L"><ellipse cx="656" cy="894"/><text x="656" y="900">→</text></g>
<g id="n18-1" class="L"><ellipse cx="84" cy="946"/><text x="84" y="952">←</text></g><g id="n18-2" class="D"><ellipse cx="136" cy="946"/><text x="136" y="952">←</text></g><g id="n18-3" class="T"><ellipse cx="188" cy="946"/><text x="188" y="952">←</text></g><g id="n18-4" class="T"><ellipse cx="240" cy="946"/><text x="240" y="952">←</text></g><g id="n18-5" class="W"><ellipse cx="292" cy="946"/><text x="292" y="952">←</text></g><g id="n18-6" class="W"><ellipse cx="344" cy="946"/><text x="344" y="952">←</text></g><g id="n18-7" class="W"><ellipse cx="396" cy="946"/><text x="396" y="952">←</text></g><g id="n18-8" class="W"><ellipse cx="448" cy="946"/><text x="448" y="952">←</text></g><g id="n18-9" class="T"><ellipse cx="500" cy="946"/><text x="500" y="952">←</text></g><g id="n18-10" class="T"><ellipse cx="552" cy="946"/><text x="552" y="952">←</text></g><g id="n18-11" class="D"><ellipse cx="604" cy="946"/><text x="604" y="952">←</text></g><g id="n18-12" class="L"><ellipse cx="656" cy="946"/><text x="656" y="952">←</text></g>
<g id="n19-1" class="L"><ellipse cx="84" cy="998"/><text x="84" y="1004">→</text></g><g id="n19-2" class="D"><ellipse cx="136" cy="998"/><text x="136" y="1004">→</text></g><g id="n19-3" class="T"><ellipse cx="188" cy="998"/><text x="188" y="1004">→</text></g><g id="n19-4" class="W"><ellipse cx="240" cy="998"/><text x="240" y="1004">→</text></g><g id="n19-5" class="W"><ellipse cx="292" cy="998"/><text x="292" y="1004">→</text></g><g id="n19-6" class="W"><ellipse cx="344" cy="998"/><text x="344" y="1004">→</text></g><g id="n19-7" class="W"><ellipse cx="396" cy="998"/><text x="396" y="1004">→</text></g><g id="n19-8" class="W"><ellipse cx="448" cy="998"/><text x="448" y="1004">→</text></g><g id="n19-9" class="W"><ellipse cx="500" cy="998"/><text x="500" y="1004">→</text></g><g id="n19-10" class="T"><ellipse cx="552" cy="998"/><text x="552" y="1004">→</text></g><g id="n19-11" class="D"><ellipse cx="604" cy="998"/><text x="604" y="1004">→</text></g><g id="n19-12" class="L"><ellipse cx="656" cy="998"/><text x="656" y="1004">→</text></g>
<g id="n20-1" class="L"><ellipse cx="84" cy="1050"/><text x="84" y="1056">←</text></g><g id="n20-2" class="D"><ellipse cx="136" cy="1050"/><text x="136" y="1056">←</text></g><g id="n20-3" class="R"><ellipse cx="188" cy="1050"/><text x="188" y="1056">←</text></g><g id="n20-4" class="W"><ellipse cx="240" cy="1050"/><text x="240" y="1056">←</text></g><g id="n20-5" class="W"><ellipse cx="292" cy="1050"/><text x="292" y="1056">←</text></g><g id="n20-6" class="W"><ellipse cx="344" cy="1050"/><text x="344" y="1056">←</text></g><g id="n20-7" class="W"><ellipse cx="396" cy="1050"/><text x="396" y="1056">←</text></g><g id="n20-8" class="W"><ellipse cx="448" cy="1050"/><text x="448" y="1056">←</text></g><g id="n20-9" class="W"><ellipse cx="500" cy="1050"/><text x="500" y="1056">←</text></g><g id="n20-10" class="R"><ellipse cx="552" cy="1050"/><text x="552" y="1056">←</text></g><g id="n20-11" class="D"><ellipse cx="604" cy="1050"/><text x="604" y="1056">←</text></g><g id="n20-12" class="L"><ellipse cx="656" cy="1050"/><text x="656" y="1056">←</text></g>
<g id="n21-1" class="L"><ellipse cx="84" cy="1102"/><text x="84" y="1108">→</text></g><g id="n21-2" class="D"><ellipse cx="136" cy="1102"/><text x="136" y="1108">→</text></g><g id="n21-3" class="T"><ellipse cx="188" cy="1102"/><text x="188" y="1108">→</text></g><g id="n21-4" class="W"><ellipse cx="240" cy="1102"/><text x="240" y="1108">→</text></g><g id="n21-5" class="W"><ellipse cx="292" cy="1102"/><text x="292" y="1108">→</text></g><g id="n21-6" class="W"><ellipse cx="344" cy="1102"/><text x="344" y="1108">→</text></g><g id="n21-7" class="W"><ellipse cx="396" cy="1102"/><text x="396" y="1108">→</text></g><g id="n21-8" class="W"><ellipse cx="448" cy="1102"/><text x="448" y="1108">→</text></g><g id="n21-9" class="W"><ellipse cx="500" cy="1102"/><text x="500" y="1108">→</text></g><g id="n21-10" class="T"><ellipse cx="552" cy="1102"/><text x="552" y="1108">→</text></g><g id="n21-11" class="D"><ellipse cx="604" cy="1102"/><text x="604" y="1108">→</text></g><g id="n21-12" class="L"><ellipse cx="656" cy="1102"/><text x="656" y="1108">→</text></g>
<g id="n22-1" class="L"><ellipse cx="84" cy="1154"/><text x="84" y="1160">←</text></g><g id="n22-2" class="D"><ellipse cx="136" cy="1154"/><text x="136" y="1160">←</text></g><g id="n22-3" class="T"><ellipse cx="188" cy="1154"/><text x="188" y="1160">←</text></g><g id="n22-4" class="W"><ellipse cx="240" cy="1154"/><text x="240" y="1160">←</text></g><g id="n22-5" class="W"><ellipse cx="292" cy="1154"/><text x="292" y="1160">←</text></g><g id="n22-6" class="W"><ellipse cx="344" cy="1154"/><text x="344" y="1160">←</text></g><g id="n22-7" class="W"><ellipse cx="396" cy="1154"/><text x="396" y="1160">←</text></g><g id="n22-8" class="W"><ellipse cx="448" cy="1154"/><text x="448" y="1160">←</text></g><g id="n22-9" class="W"><ellipse cx="500" cy="1154"/><text x="500" y="1160">←</text></g><g id="n22-10" class="T"><ellipse cx="552" cy="1154"/><text x="552" y="1160">←</text></g><g id="n22-11" class="D"><ellipse cx="604" cy="1154"/><text x="604" y="1160">←</text></g><g id="n22-12" class="L"><ellipse cx="656" cy="1154"/><text x="656" y="1160">←</text></g>
<g id="n23-1" class="L"><ellipse cx="84" cy="1206"/><text x="84" y="1212">→</text></g><g id="n23-2" class="D"><ellipse cx="136" cy="1206"/><text x="136" y="1212">→</text></g><g id="n23-3" class="R"><ellipse cx="188" cy="1206"/><text x="188" y="1212">→</text></g><g id="n23-4" class="W"><ellipse cx="240" cy="1206"/><text x="240" y="1212">→</text></g><g id="n23-5" class="W"><ellipse cx="292" cy="1206"/><text x="292" y="1212">→</text></g><g id="n23-6" class="W"><ellipse cx="344" cy="1206"/><text x="344" y="1212">→</text></g><g id="n23-7" class="W"><ellipse cx="396" cy="1206"/><text x="396" y="1212">→</text></g><g id="n23-8" class="W"><ellipse cx="448" cy="1206"/><text x="448" y="1212">→</text></g><g id="n23-9" class="W"><ellipse cx="500" cy="1206"/><text x="500" y="1212">→</text></g><g id="n23-10" class="R"><ellipse cx="552" cy="1206"/><text x="552" y="1212">→</text></g><g id="n23-11" class="D"><ellipse cx="604" cy="1206"/><text x="604" y="1212">→</text></g><g id="n23-12" class="L"><ellipse cx="656" cy="1206"/><text x="656" y="1212">→</text></g>
<g id="n24-1" class="L"><ellipse cx="84" cy="1258"/><text x="84" y="1264">←</text></g><g id="n24-2" class="D"><ellipse cx="136" cy="1258"/><text x="136" y="1264">←</text></g><g id="n24-3" class="T"><ellipse cx="188" cy="1258"/><text x="188" y="1264">←</text></g><g id="n24-4" class="W"><ellipse cx="240" cy="1258"/><text x="240" y="1264">←</text></g><g id="n24-5" class="W"><ellipse cx="292" cy="1258"/><text x="292" y="1264">←</text></g><g id="n24-6" class="W"><ellipse cx="344" cy="1258"/><text x="344" y="1264">←</text></g><g id="n24-7" class="W"><ellipse cx="396" cy="1258"/><text x="396" y="1264">←</text></g><g id="n24-8" class="W"><ellipse cx="448" cy="1258"/><text x="448" y="1264">←</text></g><g id="n24-9" class="W"><ellipse cx="500" cy="1258"/><text x="500" y="1264">←</text></g><g id="n24-10" class="T"><ellipse cx="552" cy="1258"/><text x="552" y="1264">←</text></g><g id="n24-11" class="D"><ellipse cx="604" cy="1258"/><text x="604" y="1264">←</text></g><g id="n24-12" class="L"><ellipse cx="656" cy="1258"/><text x="656" y="1264">←</text></g>
<g id="n25-1" class="L"><ellipse cx="84" cy="1310"/><text x="84" y="1316">→</text></g><g id="n25-2" class="D"><ellipse cx="136" cy="1310"/><text x="136" y="1316">→</text></g><g id="n25-3" class="T"><ellipse cx="188" cy="1310"/><text x="188" y="1316">→</text></g><g id="n25-4" class="W"><ellipse cx="240" cy="1310"/><text x="240" y="1316">→</text></g><g id="n25-5" class="W"><ellipse cx="292" cy="1310"/><text x="292" y="1316">→</text></g><g id="n25-6" class="W"><ellipse cx="344" cy="1310"/><text x="344" y="1316">→</text></g><g id="n25-7" class="W"><ellipse cx="396" cy="1310"/><text x="396" y="1316">→</text></g><g id="n25-8" class="W"><ellipse cx="448" cy="1310"/><text x="448" y="1316">→</text></g><g id="n25-9" class="W"><ellipse cx="500" cy="1310"/><text x="500" y="1316">→</text></g><g id="n25-10" class="T"><ellipse cx="552" cy="1310"/><text x="552" y="1316">→</text></g><g id="n25-11" class="D"><ellipse cx="604" cy="1310"/><text x="604" y="1316">→</text></g><g id="n25-12" class="L"><ellipse cx="656" cy="1310"/><text x="656" y="1316">→</text></g>
<g id="n26-1" class="L"><ellipse cx="84" cy="1362"/><text x="84" y="1368">←</text></g><g id="n26-2" class="D"><ellipse cx="136" cy="1362"/><text x="136" y="1368">←</text></g><g id="n26-3" class="R"><ellipse cx="188" cy="1362"/><text x="188" y="1368">←</text></g><g id="n26-4" class="W"><ellipse cx="240" cy="1362"/><text x="240" y="1368">←</text></g><g id="n26-5" class="W"><ellipse cx="292" cy="1362"/><text x="292" y="1368">←</text></g><g id="n26-6" class="W"><ellipse cx="344" cy="1362"/><text x="344" y="1368">←</text></g><g id="n26-7" class="W"><ellipse cx="396" cy="1362"/><text x="396" y="1368">←</text></g><g id="n26-8" class="W"><ellipse cx="448" cy="1362"/><text x="448" y="1368">←</text></g><g id="n26-9" class="W"><ellipse cx="500" cy="1362"/><text x="500" y="1368">←</text></g><g id="n26-10" class="R"><ellipse cx="552" cy="1362"/><text x="552" y="1368">←</text></g><g id="n26-11" class="D"><ellipse cx="604" cy="1362"/><text x="604" y="1368">←</text></g><g id="n26-12" class="L"><ellipse cx="656" cy="1362"/><text x="656" y="1368">←</text></g>
<g id="n27-1" class="L"><ellipse cx="84" cy="1414"/><text x="84" y="1420">→</text></g><g id="n27-2" class="D"><ellipse cx="136" cy="1414"/><text x="136" y="1420">→</text></g><g id="n27-3" class="T"><ellipse cx="188" cy="1414"/><text x="188" y="1420">→</text></g><g id="n27-4" class="W"><ellipse cx="240" cy="1414"/><text x="240" y="1420">→</text></g><g id="n27-5" class="W"><ellipse cx="292" cy="1414"/><text x="292" y="1420">→</text></g><g id="n27-6" class="W"><ellipse cx="344" cy="1414"/><text x="344" y="1420">→</text></g><g id="n27-7" class="W"><ellipse cx="396" cy="1414"/><text x="396" y="1420">→</text></g><g id="n27-8" class="W"><ellipse cx="448" cy="1414"/><text x="448" y="1420">→</text></g><g id="n27-9" class="W"><ellipse cx="500" cy="1414"/><text x="500" y="1420">→</text></g><g id="n27-10" class="T"><ellipse cx="552" cy="1414"/><text x="552" y="1420">→</text></g><g id="n27-11" class="D"><ellipse cx="604" cy="1414"/><text x="604" y="1420">→</text></g><g id="n27-12" class="L"><ellipse cx="656" cy="1414"/><text x="656" y="1420">→</text></g>
<g id="n28-1" class="L"><ellipse cx="84" cy="1466"/><text x="84" y="1472">←</text></g><g id="n28-2" class="D"><ellipse cx="136" cy="1466"/><text x="136" y="1472">←</text></g><g id="n28-3" class="T"><ellipse cx="188" cy="1466"/><text x="188" y="1472">←</text></g><g id="n28-4" class="W"><ellipse cx="240" cy="1466"/><text x="240" y="1472">←</text></g><g id="n28-5" class="W"><ellipse cx="292" cy="1466"/><text x="292" y="1472">←</text></g><g id="n28-6" class="W"><ellipse cx="344" cy="1466"/><text x="344" y="1472">←</text></g><g id="n28-7" class="W"><ellipse cx="396" cy="1466"/><text x="396" y="1472">←</text></g><g id="n28-8" class="W"><ellipse cx="448" cy="1466"/><text x="448" y="1472">←</text></g><g id="n28-9" class="W"><ellipse cx="500" cy="1466"/><text x="500" y="1472">←</text></g><g id="n28-10" class="T"><ellipse cx="552" cy="1466"/><text x="552" y="1472">←</text></g><g id="n28-11" class="D"><ellipse cx="604" cy="1466"/><text x="604" y="1472">←</text></g><g id="n28-12" class="L"><ellipse cx="656" cy="1466"/><text x="656" y="1472">←</text></g>
<g id="n29-1" class="L"><ellipse cx="84" cy="1518"/><text x="84" y="1524">→</text></g><g id="n29-2" class="D"><ellipse cx="136" cy="1518"/><text x="136" y="1524">→</text></g><g id="n29-3" class="R"><ellipse cx="188" cy="1518"/><text x="188" y="1524">→</text></g><g id="n29-4" class="W"><ellipse cx="240" cy="1518"/><text x="240" y="1524">→</text></g><g id="n29-5" class="W"><ellipse cx="292" cy="1518"/><text x="292" y="1524">→</text></g><g id="n29-6" class="W"><ellipse cx="344" cy="1518"/><text x="344" y="1524">→</text></g><g id="n29-7" class="W"><ellipse cx="396" cy="1518"/><text x="396" y="1524">→</text></g><g id="n29-8" class="W"><ellipse cx="448" cy="1518"/><text x="448" y="1524">→</text></g><g id="n29-9" class="W"><ellipse cx="500" cy="1518"/><text x="500" y="1524">→</text></g><g id="n29-10" class="R"><ellipse cx="552" cy="1518"/><text x="552" y="1524">→</text></g><g id="n29-11" class="D"><ellipse cx="604" cy="1518"/><text x="604" y="1524">→</text></g><g id="n29-12" class="L"><ellipse cx="656" cy="1518"/><text x="656" y="1524">→</text></g>
<g id="n30-1" class="L"><ellipse cx="84" cy="1570"/><text x="84" y="1576">←</text></g><g id="n30-2" class="D"><ellipse cx="136" cy="1570"/><text x="136" y="1576">←</text></g><g id="n30-3" class="T"><ellipse cx="188" cy="1570"/><text x="188" y="1576">←</text></g><g id="n30-4" class="W"><ellipse cx="240" cy="1570"/><text x="240" y="1576">←</text></g><g id="n30-5" class="W"><ellipse cx="292" cy="1570"/><text x="292" y="1576">←</text></g><g id="n30-6" class="W"><ellipse cx="344" cy="1570"/><text x="344" y="1576">←</text></g><g id="n30-7" class="W"><ellipse cx="396" cy="1570"/><text x="396" y="1576">←</text></g><g id="n30-8" class="W"><ellipse cx="448" cy="1570"/><text x="448" y="1576">←</text></g><g id="n30-9" class="W"><ellipse cx="500" cy="1570"/><text x="500" y="1576">←</text></g><g id="n30-10" class="T"><ellipse cx="552" cy="1570"/><text x="552" y="1576">←</text></g><g id="n30-11" class="D"><ellipse cx="604" cy="1570"/><text x="604" y="1576">←</text></g><g id="n30-12" class="L"><ellipse cx="656" cy="1570"/><text x="656" y="1576">←</text></g>
<g id="n31-1" class="L"><ellipse cx="84" cy="1622"/><text x="84" y="1628">→</text></g><g id="n31-2" class="D"><ellipse cx="136" cy="1622"/><text x="136" y="1628">→</text></g><g id="n31-3" class="T"><ellipse cx="188" cy="1622"/><text x="188" y="1628">→</text></g><g id="n31-4" class="W"><ellipse cx="240" cy="1622"/><text x="240" y="1628">→</text></g><g id="n31-5" class="W"><ellipse cx="292" cy="1622"/><text x="292" y="1628">→</text></g><g id="n31-6" class="W"><ellipse cx="344" cy="1622"/><text x="344" y="1628">→</text></g><g id="n31-7" class="W"><ellipse cx="396" cy="1622"/><text x="396" y="1628">→</text></g><g id="n31-8" class="W"><ellipse cx="448" cy="1622"/><text x="448" y="1628">→</text></g><g id="n31-9" class="W"><ellipse cx="500" cy="1622"/><text x="500" y="1628">→</text></g><g id="n31-10" class="T"><ellipse cx="552" cy="1622"/><text x="552" y="1628">→</text></g><g id="n31-11" class="D"><ellipse cx="604" cy="1622"/><text x="604" y="1628">→</text></g><g id="n31-12" class="L"><ellipse cx="656" cy="1622"/><text x="656" y="1628">→</text></g>
<g id="n32-1" class="L"><ellipse cx="84" cy="1674"/><text x="84" y="1680">←</text></g><g id="n32-2" class="D"><ellipse cx="136" cy="1674"/><text x="136" y="1680">←</text></g><g id="n32-3" class="R"><ellipse cx="188" cy="1674"/><text x="188" y="1680">←</text></g><g id="n32-4" class="W"><ellipse cx="240" cy="1674"/><text x="240" y="1680">←</text></g><g id="n32-5" class="W"><ellipse cx="292" cy="1674"/><text x="292" y="1680">←</text></g><g id="n32-6" class="W"><ellipse cx="344" cy="1674"/><text x="344" y="1680">←</text></g><g id="n32-7" class="W"><ellipse cx="396" cy="1674"/><text x="396" y="1680">←</text></g><g id="n32-8" class="W"><ellipse cx="448" cy="1674"/><text x="448" y="1680">←</text></g><g id="n32-9" class="W"><ellipse cx="500" cy="1674"/><text x="500" y="1680">←</text></g><g id="n32-10" class="R"><ellipse cx="552" cy="1674"/><text x="552" y="1680">←</text></g><g id="n32-11" class="D"><ellipse cx="604" cy="1674"/><text x="604" y="1680">←</text></g><g id="n32-12" class="L"><ellipse cx="656" cy="1674"/><text x="656" y="1680">←</text></g>
<g id="n33-1" class="L"><ellipse cx="84" cy="1726"/><text x="84" y="1732">→</text></g><g id="n33-2" class="D"><ellipse cx="136" cy="1726"/><text x="136" y="1732">→</text></g><g id="n33-3" class="T"><ellipse cx="188" cy="1726"/><text x="188" y="1732">→</text></g><g id="n33-4" class="W"><ellipse cx="240" cy="1726"/><text x="240" y="1732">→</text></g><g id="n33-5" class="W"><ellipse cx="292" cy="1726"/><text x="292" y="1732">→</text></g><g id="n33-6" class="W"><ellipse cx="344" cy="1726"/><text x="344" y="1732">→</text></g><g id="n33-7" class="W"><ellipse cx="396" cy="1726"/><text x="396" y="1732">→</text></g><g id="n33-8" class="W"><ellipse cx="448" cy="1726"/><text x="448" y="1732">→</text></g><g id="n33-9" class="W"><ellipse cx="500" cy="1726"/><text x="500" y="1732">→</text></g><g id="n33-10" class="T"><ellipse cx="552" cy="1726"/><text x="552" y="1732">→</text></g><g id="n33-11" class="D"><ellipse cx="604" cy="1726"/><text x="604" y="1732">→</text></g><g id="n33-12" class="L"><ellipse cx="656" cy="1726"/><text x="656" y="1732">→</text></g>
<g id="n34-1" class="L"><ellipse cx="84" cy="1778"/><text x="84" y="1784">←</text></g><g id="n34-2" class="D"><ellipse cx="136" cy="1778"/><text x="136" y="1784">←</text></g><g id="n34-3" class="T"><ellipse cx="188" cy="1778"/><text x="188" y="1784">←</text></g><g id="n34-4" class="W"><ellipse cx="240" cy="1778"/><text x="240" y="1784">←</text></g><g id="n34-5" class="W"><ellipse cx="292" cy="1778"/><text x="292" y="1784">←</text></g><g id="n34-6" class="W"><ellipse cx="344" cy="1778"/><text x="344" y="1784">←</text></g><g id="n34-7" class="W"><ellipse cx="396" cy="1778"/><text x="396" y="1784">←</text></g><g id="n34-8" class="W"><ellipse cx="448" cy="1778"/><text x="448" y="1784">←</text></g><g id="n34-9" class="W"><ellipse cx="500" cy="1778"/><text x="500" y="1784">←</text></g><g id="n34-10" class="T"><ellipse cx="552" cy="1778"/><text x="552" y="1784">←</text></g><g id="n34-11" class="D"><ellipse cx="604" cy="1778"/><text x="604" y="1784">←</text></g><g id="n34-12" class="L"><ellipse cx="656" cy="1778"/><text x="656" y="1784">←</text></g>
<g id="n35-1" class="L"><ellipse cx="84" cy="1830"/><text x="84" y="1836">→</text></g><g id="n35-2" class="D"><ellipse cx="136" cy="1830"/><text x="136" y="1836">→</text></g><g id="n35-3" class="R"><ellipse cx="188" cy="1830"/><text x="188" y="1836">→</text></g><g id="n35-4" class="W"><ellipse cx="240" cy="1830"/><text x="240" y="1836">→</text></g><g id="n35-5" class="W"><ellipse cx="292" cy="1830"/><text x="292" y="1836">→</text></g><g id="n35-6" class="W"><ellipse cx="344" cy="1830"/><text x="344" y="1836">→</text></g><g id="n35-7" class="W"><ellipse cx="396" cy="1830"/><text x="396" y="1836">→</text></g><g id="n35-8" class="W"><ellipse cx="448" cy="1830"/><text x="448" y="1836">→</text></g><g id="n35-9" class="W"><ellipse cx="500" cy="1830"/><text x="500" y="1836">→</text></g><g id="n35-10" class="R"><ellipse cx="552" cy="1830"/><text x="552" y="1836">→</text></g><g id="n35-11" class="D"><ellipse cx="604" cy="1830"/><text x="604" y="1836">→</text></g><g id="n35-12" class="L"><ellipse cx="656" cy="1830"/><text x="656" y="1836">→</text></g>
<g id="n36-1" class="L"><ellipse cx="84" cy="1882"/><text x="84" y="1888">←</text></g><g id="n36-2" class="D"><ellipse cx="136" cy="1882"/><text x="136" y="1888">←</text></g><g id="n36-3" class="T"><ellipse cx="188" cy="1882"/><text x="188" y="1888">←</text></g><g id="n36-4" class="W"><ellipse cx="240" cy="1882"/><text x="240" y="1888">←</text></g><g id="n36-5" class="W"><ellipse cx="292" cy="1882"/><text x="292" y="1888">←</text></g><g id="n36-6" class="W"><ellipse cx="344" cy="1882"/><text x="344" y="1888">←</text></g><g id="n36-7" class="W"><ellipse cx="396" cy="1882"/><text x="396" y="1888">←</text></g><g id="n36-8" class="W"><ellipse cx="448" cy="1882"/><text x="448" y="1888">←</text></g><g id="n36-9" class="W"><ellipse cx="500" cy="1882"/><text x="500" y="1888">←</text></g><g id="n36-10" class="T"><ellipse cx="552" cy="1882"/><text x="552" y="1888">←</text></g><g id="n36-11" class="D"><ellipse cx="604" cy="1882"/><text x="604" y="1888">←</text></g><g id="n36-12" class="L"><ellipse cx="656" cy="1882"/><text x="656" y="1888">←</text></g>
<g id="n37-1" class="L"><ellipse cx="84" cy="1934"/><text x="84" y="1940">→</text></g><g id="n37-2" class="D"><ellipse cx="136" cy="1934"/><text x="136" y="1940">→</text></g><g id="n37-3" class="T"><ellipse cx="188" cy="1934"/><text x="188" y="1940">→</text></g><g id="n37-4" class="W"><ellipse cx="240" cy="1934"/><text x="240" y="1940">→</text></g><g id="n37-5" class="W"><ellipse cx="292" cy="1934"/><text x="292" y="1940">→</text></g><g id="n37-6" class="W"><ellipse cx="344" cy="1934"/><text x="344" y="1940">→</text></g><g id="n37-7" class="W"><ellipse cx="396" cy="1934"/><text x="396" y="1940">→</text></g><g id="n37-8" class="W"><ellipse cx="448" cy="1934"/><text x="448" y="1940">→</text></g><g id="n37-9" class="W"><ellipse cx="500" cy="1934"/><text x="500" y="1940">→</text></g><g id="n37-10" class="T"><ellipse cx="552" cy="1934"/><text x="552" y="1940">→</text></g><g id="n37-11" class="D"><ellipse cx="604" cy="1934"/><text x="604" y="1940">→</text></g><g id="n37-12" class="L"><ellipse cx="656" cy="1934"/><text x="656" y="1940">→</text></g>
<g id="n38-1" class="L"><ellipse cx="84" cy="1986"/><text x="84" y="1992">←</text></g><g id="n38-2" class="D"><ellipse cx="136" cy="1986"/><text x="136" y="1992">←</text></g><g id="n38-3" class="T"><ellipse cx="188" cy="1986"/><text x="188" y="1992">←</text></g><g id="n38-4" class="T"><ellipse cx="240" cy="1986"/><text x="240" y="1992">←</text></g><g id="n38-5" class="W"><ellipse cx="292" cy="1986"/><text x="292" y="1992">←</text></g><g id="n38-6" class="W"><ellipse cx="344" cy="1986"/><text x="344" y="1992">←</text></g><g id="n38-7" class="W"><ellipse cx="396" cy="1986"/><text x="396" y="1992">←</text></g><g id="n38-8" class="W"><ellipse cx="448" cy="1986"/><text x="448" y="1992">←</text></g><g id="n38-9" class="T"><ellipse cx="500" cy="1986"/><text x="500" y="1992">←</text></g><g id="n38-10" class="T"><ellipse cx="552" cy="1986"/><text x="552" y="1992">←</text></g><g id="n38-11" class="D"><ellipse cx="604" cy="1986"/><text x="604" y="1992">←</text></g><g id="n38-12" class="L"><ellipse cx="656" cy="1986"/><text x="656" y="1992">←</text></g>
<g id="n39-1" class="L"><ellipse cx="84" cy="2038"/><text x="84" y="2044">→</text></g><g id="n39-2" class="D"><ellipse cx="136" cy="2038"/><text x="136" y="2044">→</text></g><g id="n39-3" class="T"><ellipse cx="188" cy="2038"/><text x="188" y="2044">→</text></g><g id="n39-4" class="T"><ellipse cx="240" cy="2038"/><text x="240" y="2044">→</text></g><g id="n39-5" class="D"><ellipse cx="292" cy="2038"/><text x="292" y="2044">→</text></g><g id="n39-6" class="D"><ellipse cx="344" cy="2038"/><text x="344" y="2044">→</text></g><g id="n39-7" class="D"><ellipse cx="396" cy="2038"/><text x="396" y="2044">→</text></g><g id="n39-8" class="D"><ellipse cx="448" cy="2038"/><text x="448" y="2044">→</text></g><g id="n39-9" class="T"><ellipse cx="500" cy="2038"/><text x="500" y="2044">→</text></g><g id="n39-10" class="T"><ellipse cx="552" cy="2038"/><text x="552" y="2044">→</text></g><g id="n39-11" class="D"><ellipse cx="604" cy="2038"/><text x="604" y="2044">→</text></g><g id="n39-12" class="L"><ellipse cx="656" cy="2038"/><text x="656" y="2044">→</text></g>
<g id="n40-1" class="L"><ellipse cx="84" cy="2090"/><text x="84" y="2096">←</text></g><g id="n40-2" class="D"><ellipse cx="136" cy="2090"/><text x="136" y="2096">←</text></g><g id="n40-3" class="W"><ellipse cx="188" cy="2090"/><text x="188" y="2096">←</text></g><g id="n40-4" class="W"><ellipse cx="240" cy="2090"/><text x="240" y="2096">←</text></g><g id="n40-5" class="D"><ellipse cx="292" cy="2090"/><text x="292" y="2096">←</text></g><g id="n40-6" class="T"><ellipse cx="344" cy="2090"/><text x="344" y="2096">←</text></g><g id="n40-7" class="T"><ellipse cx="396" cy="2090"/><text x="396" y="2096">←</text></g><g id="n40-8" class="D"><ellipse cx="448" cy="2090"/><text x="448" y="2096">←</text></g><g id="n40-9" class="W"><ellipse cx="500" cy="2090"/><text x="500" y="2096">←</text></g><g id="n40-10" class="W"><ellipse cx="552" cy="2090"/><text x="552" y="2096">←</text></g><g id="n40-11" class="D"><ellipse cx="604" cy="2090"/><text x="604" y="2096">←</text></g><g id="n40-12" class="L"><ellipse cx="656" cy="2090"/><text x="656" y="2096">←</text></g>
<g id="n41-1" class="L"><ellipse cx="84" cy="2142"/><text x="84" y="2148">→</text></g><g id="n41-2" class="D"><ellipse cx="136" cy="2142"/><text x="136" y="2148">→</text></g><g id="n41-3" class="D"><ellipse cx="188" cy="2142"/><text x="188" y="2148">→</text></g><g id="n41-4" class="D"><ellipse cx="240" cy="2142"/><text x="240" y="2148">→</text></g><g id="n41-5" class="D"><ellipse cx="292" cy="2142"/><text x="292" y="2148">→</text></g><g id="n41-6" class="T"><ellipse cx="344" cy="2142"/><text x="344" y="2148">→</text></g><g id="n41-7" class="T"><ellipse cx="396" cy="2142"/><text x="396" y="2148">→</text></g><g id="n41-8" class="D"><ellipse cx="448" cy="2142"/><text x="448" y="2148">→</text></g><g id="n41-9" class="D"><ellipse cx="500" cy="2142"/><text x="500" y="2148">→</text></g><g id="n41-10" class="D"><ellipse cx="552" cy="2142"/><text x="552" y="2148">→</text></g><g id="n41-11" class="D"><ellipse cx="604" cy="2142"/><text x="604" y="2148">→</text></g><g id="n41-12" class="L"><ellipse cx="656" cy="2142"/><text x="656" y="2148">→</text></g>
<g id="n42-1" class="L"><ellipse cx="84" cy="2194"/><text x="84" y="2200">←</text></g><g id="n42-2" class="L"><ellipse cx="136" cy="2194"/><text x="136" y="2200">←</text></g><g id="n42-3" class="L"><ellipse cx="188" cy="2194"/><text x="188" y="2200">←</text></g><g id="n42-4" class="D"><ellipse cx="240" cy="2194"/><text x="240" y="2200">←</text></g><g id="n42-5" class="R"><ellipse cx="292" cy="2194"/><text x="292" y="2200">←</text></g><g id="n42-6" class="T"><ellipse cx="344" cy="2194"/><text x="344" y="2200">←</text></g><g id="n42-7" class="T"><ellipse cx="396" cy="2194"/><text x="396" y="2200">←</text></g><g id="n42-8" class="R"><ellipse cx="448" cy="2194"/><text x="448" y="2200">←</text></g><g id="n42-9" class="D"><ellipse cx="500" cy="2194"/><text x="500" y="2200">←</text></g><g id="n42-10" class="L"><ellipse cx="552" cy="2194"/><text x="552" y="2200">←</text></g><g id="n42-11" class="L"><ellipse cx="604" cy="2194"/><text x="604" y="2200">←</text></g><g id="n42-12" class="L"><ellipse cx="656" cy="2194"/><text x="656" y="2200">←</text></g>
<g id="n43-1" class="L"><ellipse cx="84" cy="2246"/><text x="84" y="2252">→</text></g><g id="n43-2" class="L"><ellipse cx="136" cy="2246"/><text x="136" y="2252">→</text></g><g id="n43-3" class="L"><ellipse cx="188" cy="2246"/><text x="188" y="2252">→</text></g><g id="n43-4" class="D"><ellipse cx="240" cy="2246"/><text x="240" y="2252">→</text></g><g id="n43-5" class="T"><ellipse cx="292" cy="2246"/><text x="292" y="2252">→</text></g><g id="n43-6" class="R"><ellipse cx="344" cy="2246"/><text x="344" y="2252">→</text></g><g id="n43-7" class="R"><ellipse cx="396" cy="2246"/><text x="396" y="2252">→</text></g><g id="n43-8" class="T"><ellipse cx="448" cy="2246"/><text x="448" y="2252">→</text></g><g id="n43-9" class="D"><ellipse cx="500" cy="2246"/><text x="500" y="2252">→</text></g><g id="n43-10" class="L"><ellipse cx="552" cy="2246"/><text x="552" y="2252">→</text></g><g id="n43-11" class="L"><ellipse cx="604" cy="2246"/><text x="604" y="2252">→</text></g><g id="n43-12" class="L"><ellipse cx="656" cy="2246"/><text x="656" y="2252">→</text></g>
<g id="n44-1" class="L"><ellipse cx="84" cy="2298"/><text x="84" y="2304">←</text></g><g id="n44-2" class="L"><ellipse cx="136" cy="2298"/><text x="136" y="2304">←</text></g><g id="n44-3" class="L"><ellipse cx="188" cy="2298"/><text x="188" y="2304">←</text></g><g id="n44-4" class="D"><ellipse cx="240" cy="2298"/><text x="240" y="2304">←</text></g><g id="n44-5" class="R"><ellipse cx="292" cy="2298"/><text x="292" y="2304">←</text></g><g id="n44-6" class="T"><ellipse cx="344" cy="2298"/><text x="344" y="2304">←</text></g><g id="n44-7" class="T"><ellipse cx="396" cy="2298"/><text x="396" y="2304">←</text></g><g id="n44-8" class="R"><ellipse cx="448" cy="2298"/><text x="448" y="2304">←</text></g><g id="n44-9" class="D"><ellipse cx="500" cy="2298"/><text x="500" y="2304">←</text></g><g id="n44-10" class="L"><ellipse cx="552" cy="2298"/><text x="552" y="2304">←</text></g><g id="n44-11" class="L"><ellipse cx="604" cy="2298"/><text x="604" y="2304">←</text></g><g id="n44-12" class="L"><ellipse cx="656" cy="2298"/><text x="656" y="2304">←</text></g>
<g id="n45-1" class="L"><ellipse cx="84" cy="2350"/><text x="84" y="2356">→</text></g><g id="n45-2" class="L"><ellipse cx="136" cy="2350"/><text x="136" y="2356">→</text></g><g id="n45-3" class="L"><ellipse cx="188" cy="2350"/><text x="188" y="2356">→</text></g><g id="n45-4" class="D"><ellipse cx="240" cy="2350"/><text x="240" y="2356">→</text></g><g id="n45-5" class="T"><ellipse cx="292" cy="2350"/><text x="292" y="2356">→</text></g><g id="n45-6" class="R"><ellipse cx="344" cy="2350"/><text x="344" y="2356">→</text></g><g id="n45-7" class="R"><ellipse cx="396" cy="2350"/><text x="396" y="2356">→</text></g><g id="n45-8" class="T"><ellipse cx="448" cy="2350"/><text x="448" y="2356">→</text></g><g id="n45-9" class="D"><ellipse cx="500" cy="2350"/><text x="500" y="2356">→</text></g><g id="n45-10" class="L"><ellipse cx="552" cy="2350"/><text x="552" y="2356">→</text></g><g id="n45-11" class="L"><ellipse cx="604" cy="2350"/><text x="604" y="2356">→</text></g><g id="n45-12" class="L"><ellipse cx="656" cy="2350"/><text x="656" y="2356">→</text></g>
<g id="n46-1" class="L"><ellipse cx="84" cy="2402"/><text x="84" y="2408">←</text></g><g id="n46-2" class="L"><ellipse cx="136" cy="2402"/><text x="136" y="2408">←</text></g><g id="n46-3" class="L"><ellipse cx="188" cy="2402"/><text x="188" y="2408">←</text></g><g id="n46-4" class="D"><ellipse cx="240" cy="2402"/><text x="240" y="2408">←</text></g><g id="n46-5" class="R"><ellipse cx="292" cy="2402"/><text x="292" y="2408">←</text></g><g id="n46-6" class="T"><ellipse cx="344" cy="2402"/><text x="344" y="2408">←</text></g><g id="n46-7" class="T"><ellipse cx="396" cy="2402"/><text x="396" y="2408">←</text></g><g id="n46-8" class="R"><ellipse cx="448" cy="2402"/><text x="448" y="2408">←</text></g><g id="n46-9" class="D"><ellipse cx="500" cy="2402"/><text x="500" y="2408">←</text></g><g id="n46-10" class="L"><ellipse cx="552" cy="2402"/><text x="552" y="2408">←</text></g><g id="n46-11" class="L"><ellipse cx="604" cy="2402"/><text x="604" y="2408">←</text></g><g id="n46-12" class="L"><ellipse cx="656" cy="2402"/><text x="656" y="2408">←</text></g>
<g id="n47-1" class="L"><ellipse cx="84" cy="2454"/><text x="84" y="2460">→</text></g><g id="n47-2" class="L"><ellipse cx="136" cy="2454"/><text x="136" y="2460">→</text></g><g id="n47-3" class="L"><ellipse cx="188" cy="2454"/><text x="188" y="2460">→</text></g><g id="n47-4" class="D"><ellipse cx="240" cy="2454"/><text x="240" y="2460">→</text></g><g id="n47-5" class="T"><ellipse cx="292" cy="2454"/><text x="292" y="2460">→</text></g><g id="n47-6" class="R"><ellipse cx="344" cy="2454"/><text x="344" y="2460">→</text></g><g id="n47-7" class="R"><ellipse cx="396" cy="2454"/><text x="396" y="2460">→</text></g><g id="n47-8" class="T"><ellipse cx="448" cy="2454"/><text x="448" y="2460">→</text></g><g id="n47-9" class="D"><ellipse cx="500" cy="2454"/><text x="500" y="2460">→</text></g><g id="n47-10" class="L"><ellipse cx="552" cy="2454"/><text x="552" y="2460">→</text></g><g id="n47-11" class="L"><ellipse cx="604" cy="2454"/><text x="604" y="2460">→</text></g><g id="n47-12" class="L"><ellipse cx="656" cy="2454"/><text x="656" y="2460">→</text></g>
<g id="n48-1" class="L"><ellipse cx="84" cy="2506"/><text x="84" y="2512">←</text></g><g id="n48-2" class="L"><ellipse cx="136" cy="2506"/><text x="136" y="2512">←</text></g><g id="n48-3" class="L"><ellipse cx="188" cy="2506"/><text x="188" y="2512">←</text></g><g id="n48-4" class="D"><ellipse cx="240" cy="2506"/><text x="240" y="2512">←</text></g><g id="n48-5" class="T"><ellipse cx="292" cy="2506"/><text x="292" y="2512">←</text></g><g id="n48-6" class="T"><ellipse cx="344" cy="2506"/><text x="344" y="2512">←</text></g><g id="n48-7" class="T"><ellipse cx="396" cy="2506"/><text x="396" y="2512">←</text></g><g id="n48-8" class="T"><ellipse cx="448" cy="2506"/><text x="448" y="2512">←</text></g><g id="n48-9" class="D"><ellipse cx="500" cy="2506"/><text x="500" y="2512">←</text></g><g id="n48-10" class="L"><ellipse cx="552" cy="2506"/><text x="552" y="2512">←</text></g><g id="n48-11" class="L"><ellipse cx="604" cy="2506"/><text x="604" y="2512">←</text></g><g id="n48-12" class="L"><ellipse cx="656" cy="2506"/><text x="656" y="2512">←</text></g>
<g id="n49-1" class="L"><ellipse cx="84" cy="2558"/><text x="84" y="2564">→</text></g><g id="n49-2" class="L"><ellipse cx="136" cy="2558"/><text x="136" y="2564">→</text></g><g id="n49-3" class="L"><ellipse cx="188" cy="2558"/><text x="188" y="2564">→</text></g><g id="n49-4" class="D"><ellipse cx="240" cy="2558"/><text x="240" y="2564">→</text></g><g id="n49-5" class="T"><ellipse cx="292" cy="2558"/><text x="292" y="2564">→</text></g><g id="n49-6" class="W"><ellipse cx="344" cy="2558"/><text x="344" y="2564">→</text></g><g id="n49-7" class="W"><ellipse cx="396" cy="2558"/><text x="396" y="2564">→</text></g><g id="n49-8" class="T"><ellipse cx="448" cy="2558"/><text x="448" y="2564">→</text></g><g id="n49-9" class="D"><ellipse cx="500" cy="2558"/><text x="500" y="2564">→</text></g><g id="n49-10" class="L"><ellipse cx="552" cy="2558"/><text x="552" y="2564">→</text></g><g id="n49-11" class="L"><ellipse cx="604" cy="2558"/><text x="604" y="2564">→</text></g><g id="n49-12" class="L"><ellipse cx="656" cy="2558"/><text x="656" y="2564">→</text></g>
<g id="n50-1" class="L"><ellipse cx="84" cy="2610"/><text x="84" y="2616">←</text></g><g id="n50-2" class="L"><ellipse cx="136" cy="2610"/><text x="136" y="2616">←</text></g><g id="n50-3" class="L"><ellipse cx="188" cy="2610"/><text x="188" y="2616">←</text></g><g id="n50-4" class="D"><ellipse cx="240" cy="2610"/><text x="240" y="2616">←</text></g><g id="n50-5" class="W"><ellipse cx="292" cy="2610"/><text x="292" y="2616">←</text></g><g id="n50-6" class="W"><ellipse cx="344" cy="2610"/><text x="344" y="2616">←</text></g><g id="n50-7" class="W"><ellipse cx="396" cy="2610"/><text x="396" y="2616">←</text></g><g id="n50-8" class="W"><ellipse cx="448" cy="2610"/><text x="448" y="2616">←</text></g><g id="n50-9" class="D"><ellipse cx="500" cy="2610"/><text x="500" y="2616">←</text></g><g id="n50-10" class="L"><ellipse cx="552" cy="2610"/><text x="552" y="2616">←</text></g><g id="n50-11" class="L"><ellipse cx="604" cy="2610"/><text x="604" y="2616">←</text></g><g id="n50-12" class="L"><ellipse cx="656" cy="2610"/><text x="656" y="2616">←</text></g>
<g id="n51-1" class="L"><ellipse cx="84" cy="2662"/><text x="84" y="2668">→</text></g><g id="n51-2" class="L"><ellipse cx="136" cy="2662"/><text x="136" y="2668">→</text></g><g id="n51-3" class="L"><ellipse cx="188" cy="2662"/><text x="188" y="2668">→</text></g><g id="n51-4" class="D"><ellipse cx="240" cy="2662"/><text x="240" y="2668">→</text></g><g id="n51-5" class="D"><ellipse cx="292" cy="2662"/><text x="292" y="2668">→</text></g><g id="n51-6" class="W"><ellipse cx="344" cy="2662"/><text x="344" y="2668">→</text></g><g id="n51-7" class="W"><ellipse cx="396" cy="2662"/><text x="396" y="2668">→</text></g><g id="n51-8" class="D"><ellipse cx="448" cy="2662"/><text x="448" y="2668">→</text></g><g id="n51-9" class="D"><ellipse cx="500" cy="2662"/><text x="500" y="2668">→</text></g><g id="n51-10" class="L"><ellipse cx="552" cy="2662"/><text x="552" y="2668">→</text></g><g id="n51-11" class="L"><ellipse cx="604" cy="2662"/><text x="604" y="2668">→</text></g><g id="n51-12" class="L"><ellipse cx="656" cy="2662"/><text x="656" y="2668">→</text></g>
<g id="n52-1" class="L"><ellipse cx="84" cy="2714"/><text x="84" y="2720">←</text></g><g id="n52-2" class="L"><ellipse cx="136" cy="2714"/><text x="136" y="2720">←</text></g><g id="n52-3" class="L"><ellipse cx="188" cy="2714"/><text x="188" y="2720">←</text></g><g id="n52-4" class="L"><ellipse cx="240" cy="2714"/><text x="240" y="2720">←</text></g><g id="n52-5" class="D"><ellipse cx="292" cy="2714"/><text x="292" y="2720">←</text></g><g id="n52-6" class="D"><ellipse cx="344" cy="2714"/><text x="344" y="2720">←</text></g><g id="n52-7" class="D"><ellipse cx="396" cy="2714"/><text x="396" y="2720">←</text></g><g id="n52-8" class="D"><ellipse cx="448" cy="2714"/><text x="448" y="2720">←</text></g><g id="n52-9" class="L"><ellipse cx="500" cy="2714"/><text x="500" y="2720">←</text></g><g id="n52-10" class="L"><ellipse cx="552" cy="2714"/><text x="552" y="2720">←</text></g><g id="n52-11" class="L"><ellipse cx="604" cy="2714"/><text x="604" y="2720">←</text></g><g id="n52-12" class="L"><ellipse cx="656" cy="2714"/><text x="656" y="2720">←</text></g>
<g id="n53-1" class="L"><ellipse cx="84" cy="2766"/><text x="84" y="2772">→</text></g><g id="n53-2" class="L"><ellipse cx="136" cy="2766"/><text x="136" y="2772">→</text></g><g id="n53-3" class="L"><ellipse cx="188" cy="2766"/><text x="188" y="2772">→</text></g><g id="n53-4" class="L"><ellipse cx="240" cy="2766"/><text x="240" y="2772">→</text></g><g id="n53-5" class="L"><ellipse cx="292" cy="2766"/><text x="292" y="2772">→</text></g><g id="n53-6" class="L"><ellipse cx="344" cy="2766"/><text x="344" y="2772">→</text></g><g id="n53-7" class="L"><ellipse cx="396" cy="2766"/><text x="396" y="2772">→</text></g><g id="n53-8" class="L"><ellipse cx="448" cy="2766"/><text x="448" y="2772">→</text></g><g id="n53-9" class="L"><ellipse cx="500" cy="2766"/><text x="500" y="2772">→</text></g><g id="n53-10" class="L"><ellipse cx="552" cy="2766"/><text x="552" y="2772">→</text></g><g id="n53-11" class="L"><ellipse cx="604" cy="2766"/><text x="604" y="2772">→</text></g><g id="n53-12" class="L"><ellipse cx="656" cy="2766"/><text x="656" y="2772">→</text></g>
</g>
<text class="wm" x="370" y="1445">BRACELETBOOK.COM</text>
</svg>
